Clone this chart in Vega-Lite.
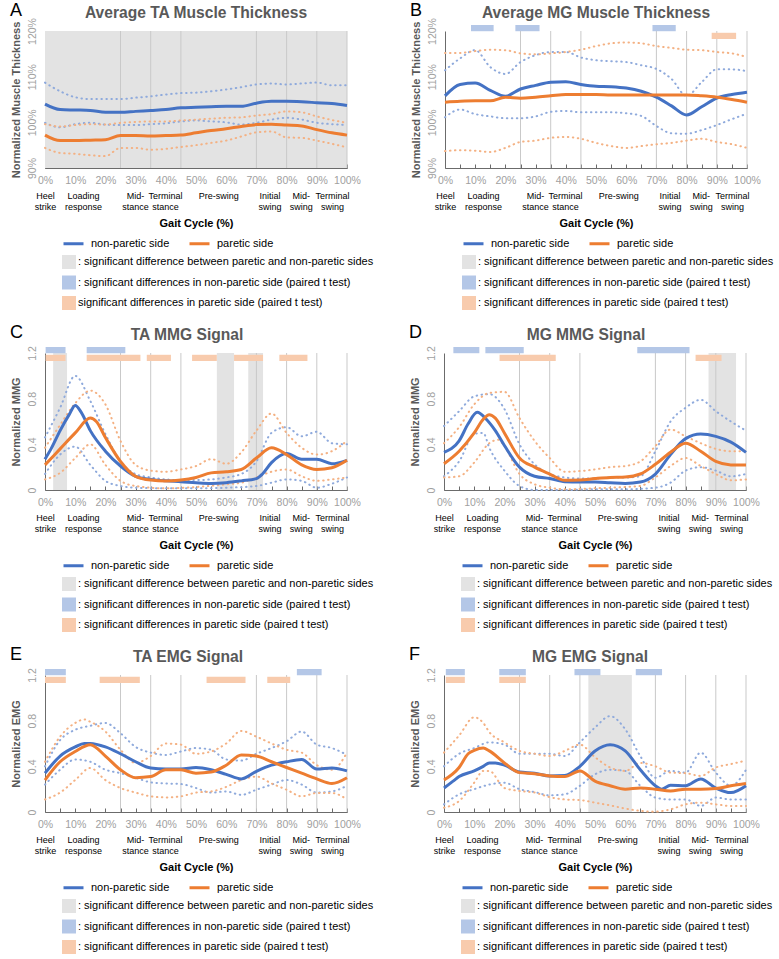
{
"$schema": "https://vega.github.io/schema/vega-lite/v6.json",
"background": "white",
"padding": {"left": 9, "top": 1, "right": 2, "bottom": 0},
"config": {"font": "Liberation Sans", "view": {"stroke": null}, "legend": {"padding": 0}},
"datasets": {
"A": [
{"x":0,"n":104.0,"p":97.2,"nu":108.7,"nl":99.9,"pu":99.6,"pl":94.4},
{"x":5,"n":102.8,"p":96.0,"nu":106.8,"nl":98.9,"pu":99.1,"pl":93.3},
{"x":10,"n":102.7,"p":96.0,"nu":105.5,"nl":99.6,"pu":99.4,"pl":93.1},
{"x":15,"n":102.6,"p":96.1,"nu":105.1,"nl":99.9,"pu":99.6,"pl":92.8},
{"x":20,"n":102.2,"p":96.2,"nu":105.1,"nl":99.5,"pu":99.5,"pl":92.6},
{"x":25,"n":102.2,"p":97.1,"nu":105.1,"nl":99.4,"pu":99.9,"pl":94.4},
{"x":30,"n":102.4,"p":97.1,"nu":105.4,"nl":99.4,"pu":100.1,"pl":94.4},
{"x":35,"n":102.6,"p":97.0,"nu":105.7,"nl":99.6,"pu":100.2,"pl":94.0},
{"x":40,"n":102.8,"p":97.1,"nu":106.1,"nl":99.8,"pu":100.2,"pl":94.2},
{"x":45,"n":103.2,"p":97.2,"nu":106.4,"nl":100.2,"pu":100.4,"pl":94.6},
{"x":50,"n":103.3,"p":97.7,"nu":106.5,"nl":100.4,"pu":100.6,"pl":95.0},
{"x":55,"n":103.4,"p":98.2,"nu":106.8,"nl":100.2,"pu":100.8,"pl":95.5},
{"x":60,"n":103.5,"p":98.6,"nu":107.2,"nl":100.0,"pu":101.0,"pl":96.0},
{"x":65,"n":103.5,"p":99.1,"nu":107.7,"nl":99.5,"pu":101.1,"pl":96.9},
{"x":70,"n":104.2,"p":99.5,"nu":108.3,"nl":99.9,"pu":101.5,"pl":97.8},
{"x":75,"n":104.6,"p":99.6,"nu":108.5,"nl":100.6,"pu":101.8,"pl":98.0},
{"x":80,"n":104.6,"p":99.4,"nu":108.3,"nl":101.0,"pu":102.4,"pl":96.7},
{"x":85,"n":104.5,"p":99.2,"nu":108.5,"nl":100.6,"pu":102.2,"pl":96.6},
{"x":90,"n":104.3,"p":98.4,"nu":108.7,"nl":99.9,"pu":101.3,"pl":96.0},
{"x":95,"n":104.1,"p":97.7,"nu":108.1,"nl":99.6,"pu":100.5,"pl":95.3},
{"x":100,"n":103.7,"p":97.2,"nu":108.1,"nl":99.4,"pu":99.9,"pl":94.5}
],
"B": [
{"x":0,"n":105.8,"p":104.4,"nu":111.4,"nl":101.1,"pu":115.2,"pl":93.7},
{"x":5,"n":108.3,"p":104.6,"nu":114.0,"nl":102.8,"pu":115.2,"pl":93.9},
{"x":10,"n":108.6,"p":104.7,"nu":115.8,"nl":101.8,"pu":115.6,"pl":93.8},
{"x":15,"n":107.0,"p":104.7,"nu":112.1,"nl":101.3,"pu":115.9,"pl":93.5},
{"x":20,"n":105.7,"p":105.5,"nu":110.6,"nl":100.9,"pu":115.8,"pl":94.4},
{"x":25,"n":107.3,"p":105.3,"nu":113.2,"nl":100.9,"pu":115.1,"pl":95.7},
{"x":30,"n":108.1,"p":105.5,"nu":114.7,"nl":101.3,"pu":114.9,"pl":96.0},
{"x":35,"n":108.8,"p":105.8,"nu":115.4,"nl":102.3,"pu":115.1,"pl":96.6},
{"x":40,"n":108.9,"p":106.1,"nu":115.4,"nl":102.5,"pu":115.4,"pl":96.8},
{"x":45,"n":108.3,"p":106.1,"nu":114.2,"nl":102.2,"pu":115.9,"pl":96.4},
{"x":50,"n":107.9,"p":106.1,"nu":113.6,"nl":102.2,"pu":116.7,"pl":95.5},
{"x":55,"n":107.8,"p":106.0,"nu":113.4,"nl":102.2,"pu":117.3,"pl":94.8},
{"x":60,"n":107.5,"p":106.0,"nu":113.2,"nl":102.0,"pu":117.5,"pl":94.4},
{"x":65,"n":106.8,"p":106.0,"nu":112.5,"nl":101.4,"pu":117.3,"pl":94.8},
{"x":70,"n":105.5,"p":106.0,"nu":111.7,"nl":99.2,"pu":116.7,"pl":95.2},
{"x":75,"n":103.6,"p":106.0,"nu":109.5,"nl":97.6,"pu":116.3,"pl":95.5},
{"x":80,"n":101.6,"p":106.0,"nu":105.8,"nl":97.5,"pu":115.9,"pl":96.0},
{"x":85,"n":103.4,"p":105.8,"nu":108.8,"nl":98.3,"pu":115.8,"pl":96.4},
{"x":90,"n":105.3,"p":105.5,"nu":111.6,"nl":99.4,"pu":115.4,"pl":95.7},
{"x":95,"n":106.1,"p":105.0,"nu":111.6,"nl":100.7,"pu":115.1,"pl":95.2},
{"x":100,"n":106.6,"p":104.4,"nu":111.2,"nl":101.9,"pu":114.3,"pl":94.4}
],
"C": [
{"x":0,"n":0.27,"p":0.22,"nu":0.46,"nl":0.14,"pu":0.37,"pl":0.093},
{"x":2,"n":0.36},
{"x":5,"n":0.52,"p":0.36,"nu":0.72,"nl":0.31,"pu":0.57,"pl":0.15},
{"x":8,"n":0.66},
{"x":10,"n":0.74,"p":0.50,"nu":1.0,"nl":0.38,"pu":0.76,"pl":0.28},
{"x":12,"n":0.68},
{"x":15,"n":0.52,"p":0.63,"nu":0.78,"nl":0.22,"pu":0.87,"pl":0.40},
{"x":17,"p":0.60},
{"x":20,"n":0.34,"p":0.46,"nu":0.49,"nl":0.08,"pu":0.75,"pl":0.22},
{"x":25,"n":0.21,"p":0.25,"nu":0.25,"nl":0.035,"pu":0.43,"pl":0.08},
{"x":30,"n":0.12,"p":0.12,"nu":0.14,"nl":0.02,"pu":0.22,"pl":0.035},
{"x":35,"n":0.093,"p":0.087,"nu":0.11,"pu":0.17},
{"x":40,"n":0.08,"p":0.079,"nu":0.093,"nl":0.015,"pu":0.16,"pl":0.015},
{"x":45,"n":0.073,"p":0.087,"nu":0.087,"pu":0.18},
{"x":50,"n":0.064,"p":0.11,"nu":0.087,"nl":0.015,"pu":0.21,"pl":0.026},
{"x":55,"n":0.058,"p":0.15,"nu":0.093,"pu":0.27},
{"x":60,"n":0.064,"p":0.16,"nu":0.11,"nl":0.02,"pu":0.23,"pl":0.05},
{"x":65,"n":0.08,"p":0.18,"nu":0.14,"pu":0.33,"pl":0.064},
{"x":70,"n":0.10,"p":0.28,"nu":0.25,"nl":0.035,"pu":0.52,"pl":0.11},
{"x":72,"n":0.14},
{"x":75,"n":0.24,"p":0.37,"nu":0.50,"nl":0.064,"pu":0.67,"pl":0.16},
{"x":80,"n":0.32,"p":0.31,"nu":0.55,"nl":0.093,"pu":0.50,"pl":0.18},
{"x":85,"n":0.27,"p":0.22,"nu":0.47,"nl":0.08,"pu":0.37,"pl":0.12},
{"x":90,"n":0.27,"p":0.18,"nu":0.51,"nl":0.02,"pu":0.31,"pl":0.08},
{"x":95,"n":0.23,"p":0.195,"nu":0.41,"nl":0.055,"pu":0.34,"pl":0.093},
{"x":100,"n":0.26,"p":0.26,"nu":0.40,"nl":0.11,"pu":0.43,"pl":0.11}
],
"D": [
{"x":0,"n":0.33,"p":0.23,"nu":0.56,"nl":0.12,"pu":0.41,"pl":0.11},
{"x":5,"n":0.43,"p":0.34,"nu":0.69,"nl":0.25,"pu":0.55,"pl":0.12},
{"x":8,"n":0.58},
{"x":10,"p":0.50,"nu":0.82,"nl":0.49,"pu":0.75,"pl":0.24},
{"x":11,"n":0.68},
{"x":13,"p":0.62,"nl":0.50},
{"x":14,"n":0.62},
{"x":15,"p":0.66,"nu":0.84,"nl":0.37,"pu":0.85,"pl":0.41},
{"x":17,"n":0.52,"p":0.63},
{"x":18,"pl":0.44},
{"x":20,"n":0.39,"p":0.50,"nu":0.71,"nl":0.17,"pu":0.86,"pl":0.385},
{"x":25,"n":0.20,"p":0.28,"nu":0.40,"nl":0.035,"pu":0.63,"pl":0.14},
{"x":30,"n":0.12,"p":0.20,"nu":0.225,"nl":0.0,"pu":0.43,"pl":0.05},
{"x":35,"n":0.10,"p":0.14,"nu":0.14,"pu":0.28,"pl":0.02},
{"x":40,"n":0.073,"p":0.085,"nu":0.11,"nl":0.0,"pu":0.16,"pl":0.006},
{"x":45,"n":0.07,"p":0.088,"nu":0.10,"pu":0.166},
{"x":50,"n":0.07,"p":0.10,"nu":0.10,"nl":0.006,"pu":0.18,"pl":0.015},
{"x":55,"n":0.064,"p":0.11,"nu":0.11,"pu":0.20},
{"x":60,"n":0.058,"p":0.114,"nu":0.11,"nl":0.006,"pu":0.21,"pl":0.026},
{"x":65,"n":0.07,"p":0.14,"nu":0.12,"pu":0.25,"pl":0.035},
{"x":70,"n":0.14,"p":0.225,"nu":0.34,"nl":0.02,"pu":0.385,"pl":0.11},
{"x":75,"n":0.31,"p":0.33,"nu":0.60,"nl":0.064,"pu":0.53,"pl":0.21},
{"x":80,"n":0.45,"p":0.41,"nu":0.72,"nl":0.17,"pu":0.47,"pl":0.28},
{"x":85,"n":0.49,"p":0.34,"nu":0.79,"nl":0.20,"pu":0.41,"pl":0.21},
{"x":90,"n":0.47,"p":0.25,"nu":0.69,"nl":0.17,"pu":0.36,"pl":0.14},
{"x":95,"n":0.42,"p":0.22,"nu":0.60,"nl":0.12,"pu":0.34,"pl":0.085},
{"x":100,"n":0.33,"p":0.22,"nu":0.52,"nl":0.14,"pu":0.34,"pl":0.093}
],
"E": [
{"x":0,"n":0.34,"p":0.28,"nu":0.40,"nl":0.24,"pu":0.44,"pl":0.11},
{"x":5,"n":0.49,"p":0.44,"nu":0.63,"nl":0.37,"pu":0.66,"pl":0.17},
{"x":10,"n":0.57,"p":0.53,"nu":0.72,"nl":0.46,"pu":0.78,"pl":0.28},
{"x":13,"n":0.60,"pu":0.81},
{"x":15,"n":0.60,"p":0.59,"nu":0.755,"nl":0.44,"pu":0.79,"pl":0.385},
{"x":20,"n":0.57,"p":0.49,"nu":0.78,"nl":0.37,"pu":0.705,"pl":0.28},
{"x":25,"n":0.51,"p":0.37,"nu":0.69,"nl":0.34,"pu":0.545,"pl":0.21},
{"x":30,"n":0.44,"p":0.30,"nu":0.57,"nl":0.30,"pu":0.43,"pl":0.17},
{"x":35,"n":0.385,"p":0.31,"nu":0.52,"nl":0.26,"pu":0.49,"pl":0.137},
{"x":40,"n":0.376,"p":0.37,"nu":0.50,"nl":0.25,"pu":0.60,"pl":0.128},
{"x":45,"n":0.376,"p":0.37,"nu":0.53,"nl":0.245,"pu":0.59,"pl":0.137},
{"x":50,"n":0.39,"p":0.34,"nu":0.56,"nl":0.21,"pu":0.51,"pl":0.17},
{"x":55,"n":0.37,"p":0.35,"nu":0.545,"nl":0.17,"pu":0.53,"pl":0.18},
{"x":60,"n":0.33,"p":0.41,"nu":0.46,"nl":0.18,"pu":0.60,"pl":0.22},
{"x":65,"n":0.29,"p":0.50,"nu":0.45,"nl":0.15,"pu":0.71,"pl":0.28},
{"x":70,"n":0.356,"p":0.49,"nu":0.51,"nl":0.195,"pu":0.66,"pl":0.31},
{"x":75,"n":0.41,"p":0.44,"nu":0.56,"nl":0.24,"pu":0.60,"pl":0.25},
{"x":80,"n":0.44,"p":0.39,"nu":0.62,"nl":0.28,"pu":0.545,"pl":0.195},
{"x":85,"n":0.46,"p":0.34,"nu":0.705,"nl":0.24,"pu":0.52,"pl":0.137},
{"x":90,"n":0.376,"p":0.29,"nu":0.59,"nl":0.17,"pu":0.41,"pl":0.166},
{"x":95,"n":0.385,"p":0.25,"nu":0.56,"nl":0.18,"pu":0.37,"pl":0.166},
{"x":100,"n":0.36,"p":0.30,"nu":0.50,"nl":0.23,"pu":0.52,"pl":0.11}
],
"F": [
{"x":0,"n":0.21,"p":0.28,"nu":0.40,"nl":0.067,"pu":0.52,"pl":0.038},
{"x":3,"n":0.27},
{"x":5,"n":0.31,"p":0.39,"nu":0.51,"nl":0.155,"pu":0.67,"pl":0.096},
{"x":8,"p":0.51},
{"x":10,"n":0.36,"p":0.54,"nu":0.56,"nl":0.20,"pu":0.83,"pl":0.257},
{"x":13,"n":0.40,"p":0.56,"pu":0.78,"pl":0.36},
{"x":15,"n":0.43,"p":0.535,"nu":0.61,"nl":0.24,"pu":0.70,"pl":0.36},
{"x":17,"n":0.43},
{"x":20,"n":0.41,"p":0.43,"nu":0.59,"nl":0.257,"pu":0.61,"pl":0.21},
{"x":25,"n":0.35,"p":0.345,"nu":0.51,"nl":0.20,"pu":0.535,"pl":0.184},
{"x":30,"n":0.34,"p":0.336,"nu":0.51,"nl":0.175,"pu":0.51,"pl":0.17},
{"x":35,"n":0.316,"p":0.316,"nu":0.51,"nl":0.146,"pu":0.49,"pl":0.13},
{"x":40,"n":0.32,"p":0.31,"nu":0.49,"nl":0.155,"pu":0.535,"pl":0.11},
{"x":45,"n":0.40,"p":0.36,"nu":0.61,"nl":0.23,"pu":0.59,"pl":0.105},
{"x":50,"n":0.535,"p":0.27,"nu":0.74,"nl":0.33,"pu":0.48,"pl":0.082},
{"x":55,"n":0.59,"p":0.23,"nu":0.84,"nl":0.37,"pu":0.39,"pl":0.058},
{"x":60,"n":0.535,"p":0.20,"nu":0.725,"nl":0.36,"pu":0.36,"pl":0.03},
{"x":65,"n":0.37,"p":0.21,"nu":0.49,"nl":0.23,"pu":0.43,"pl":0.01},
{"x":70,"n":0.23,"p":0.20,"nu":0.30,"nl":0.126,"pu":0.40,"pl":0.003},
{"x":72,"n":0.20},
{"x":75,"n":0.234,"p":0.184,"nu":0.36,"nl":0.11,"pu":0.345,"pl":0.023},
{"x":80,"n":0.23,"p":0.20,"nu":0.345,"nl":0.11,"pu":0.34,"pl":0.067},
{"x":85,"n":0.29,"p":0.20,"nu":0.52,"nl":0.053,"pu":0.316,"pl":0.082},
{"x":90,"n":0.21,"p":0.205,"nu":0.345,"nl":0.126,"pu":0.39,"pl":0.067},
{"x":95,"n":0.17,"p":0.23,"nu":0.23,"nl":0.11,"pu":0.42,"pl":0.053},
{"x":100,"n":0.23,"p":0.25,"nu":0.37,"nl":0.11,"pu":0.45,"pl":0.053}
],
"sA": [{"k":"b","a":0,"e":100}],
"sB": [{"k":"n","a":8.6,"e":16.1},{"k":"n","a":23.3,"e":31.3},{"k":"n","a":68.7,"e":76.4},{"k":"p","a":88.3,"e":96.4}],
"sC": [{"k":"b","a":2.7,"e":7.3},{"k":"b","a":56.9,"e":62.6},{"k":"b","a":67.3,"e":72.2},{"k":"n","a":0.2,"e":6.8},{"k":"n","a":13.8,"e":26.6},{"k":"p","a":0.2,"e":6.8},{"k":"p","a":13.8,"e":31.6},{"k":"p","a":33.7,"e":41.7},{"k":"p","a":48.7,"e":56.9},{"k":"p","a":62.6,"e":72.2},{"k":"p","a":77.6,"e":86.9}],
"sD": [{"k":"b","a":87.6,"e":96.7},{"k":"n","a":3.1,"e":11.7},{"k":"n","a":13.7,"e":26.4},{"k":"n","a":64.0,"e":81.3},{"k":"p","a":18.4,"e":37.0},{"k":"p","a":83.3,"e":91.9}],
"sE": [{"k":"n","a":0,"e":6.9},{"k":"n","a":83.4,"e":91.6},{"k":"p","a":0,"e":6.9},{"k":"p","a":18.1,"e":31.4},{"k":"p","a":53.5,"e":66.4},{"k":"p","a":73.6,"e":81.2}],
"sF": [{"k":"b","a":47.8,"e":62.2},{"k":"n","a":0.6,"e":6.9},{"k":"n","a":18.3,"e":27.1},{"k":"n","a":43.2,"e":51.8},{"k":"n","a":63.5,"e":72.2},{"k":"p","a":0.6,"e":6.9},{"k":"p","a":18.3,"e":27.1}]
},
"spacing": 14,
"resolve": {"scale": {"color": "independent", "fill": "independent"}, "legend": {"color": "independent", "fill": "independent"}},
"vconcat": [
{"spacing": 35, "resolve": {"scale": {"color": "independent", "fill": "independent"}, "legend": {"color": "independent", "fill": "independent"}},
 "hconcat": [
 {"title": {"text": "A", "anchor": "start", "fontSize": 18, "fontWeight": "normal", "color": "#000000", "offset": -14},
  "resolve": {"scale": {"color": "independent", "fill": "independent"}, "legend": {"color": "independent", "fill": "independent"}},
  "vconcat": [{
   "width": 302, "height": 137,
   "title": {"text": "Average TA Muscle Thickness", "fontSize": 15.6, "fontWeight": "bold", "color": "#595959", "frame": "group", "anchor": "middle", "offset": -4},
   "resolve": {"scale": {"y": "independent"}, "axis": {"x": "independent", "y": "independent"}},
   "layer": [
    {"data": {"name": "sA"}, "transform": [{"filter": "datum.k == 'b'"}], "mark": {"type": "rect"},
     "encoding": {"x": {"field": "a", "type": "quantitative", "scale": {"domain": [0,100], "nice": false, "zero": false}, "axis": null}, "x2": {"field": "e"},
      "fill": {"field": "k", "type": "nominal", "scale": {"domain": ["b","n","p"], "range": ["#E3E3E3","#B4C7E7","#F8CBAD"]},
       "legend": {"orient": "none", "legendX": 17, "legendY": 224, "title": null, "direction": "vertical", "symbolType": "square", "symbolSize": 196, "symbolStrokeWidth": 0, "symbolOpacity": 1, "labelFontSize": 11, "labelColor": "#000000", "labelOffset": 2, "rowPadding": 6.5, "labelLimit": 400,
        "labelExpr": "datum.label == 'b' ? ': significant difference between paretic and non-paretic sides' : datum.label == 'n' ? ': significant differences in non-paretic side (paired t test)' : '\u00a0\u00a0significant differences in paretic side (paired t test)'"}}}},
    {"data": {"values": [{"g":25},{"g":35},{"g":45},{"g":70},{"g":80},{"g":90},{"g":100}]},
     "mark": {"type": "rule", "color": "#C9C9C9", "strokeWidth": 1},
     "encoding": {"x": {"field": "g", "type": "quantitative", "scale": {"domain": [0,100], "nice": false, "zero": false},
      "axis": {"orient": "bottom", "offset": 27.5, "values": [0,12.6,29.8,39.7,57.4,74.3,84.7,95], "labelExpr": "datum.value < 5 ? ['Heel','strike'] : datum.value < 20 ? ['Loading','response'] : datum.value < 35 ? ['Mid-','stance'] : datum.value < 50 ? ['Terminal','stance'] : datum.value < 65 ? 'Pre-swing' : datum.value < 80 ? ['Initial','swing'] : datum.value < 90 ? ['Mid-','swing'] : ['Terminal','swing']", "domain": false, "ticks": false, "grid": false, "labelPadding": 0, "labelFontSize": 9, "labelColor": "#000000", "labelLineHeight": 11, "labelBaseline": "middle", "labelAlign": "center", "labelFlush": false, "labelOverlap": false, "labelBound": false, "title": "Gait Cycle (%)", "titleFontSize": 11, "titleFontWeight": "bold", "titleColor": "#000000", "titlePadding": 5.5}}}},
    {"data": {"name": "A"},
     "transform": [{"fold": ["n","p","nu","nl","pu","pl"], "as": ["s","y"]}, {"filter": "isValid(datum.y)"}],
     "encoding": {
      "x": {"field": "x", "type": "quantitative", "scale": {"domain": [0,100], "nice": false, "zero": false},
       "axis": {"orient": "bottom", "values": [0,5,10,15,20,25,30,35,40,45,50,55,60,65,70,75,80,85,90,95,100], "labelExpr": "datum.value % 10 == 0 ? datum.value + '%' : ''", "title": null, "grid": false, "domainColor": "#6B6B6B", "tickColor": "#6B6B6B", "tickSize": -4, "labelColor": "#A0A0A0", "labelFontSize": 10.5, "labelPadding": 11, "labelFlush": false, "labelOverlap": false}},
      "y": {"field": "y", "type": "quantitative", "scale": {"domain": [90,120], "nice": false, "zero": false},
       "axis": {"orient": "left", "values": [90,100,110,120], "labelExpr": "datum.value + '%'", "title": "Normalized Muscle Thickness", "grid": false, "ticks": false, "domainColor": "#6B6B6B", "labelAngle": -90, "labelAlign": "center", "labelBaseline": "bottom", "labelColor": "#A0A0A0", "labelFontSize": 10.5, "labelPadding": 8, "labelOverlap": false, "labelFlush": false, "titleFontSize": 11, "titleFontWeight": "bold", "titleColor": "#595959", "titlePadding": 6}}
     },
     "layer": [
      {"transform": [{"filter": "datum.s == 'nu' || datum.s == 'nl'"}], "mark": {"type": "line", "interpolate": "monotone", "color": "#8FAADC", "strokeWidth": 2, "strokeDash": [0.5,4.5], "strokeCap": "round"}, "encoding": {"detail": {"field": "s", "type": "nominal"}}},
      {"transform": [{"filter": "datum.s == 'pu' || datum.s == 'pl'"}], "mark": {"type": "line", "interpolate": "monotone", "color": "#F4B183", "strokeWidth": 2, "strokeDash": [0.5,4.5], "strokeCap": "round"}, "encoding": {"detail": {"field": "s", "type": "nominal"}}},
      {"transform": [{"filter": "datum.s == 'n' || datum.s == 'p'"}], "mark": {"type": "line", "interpolate": "monotone", "strokeWidth": 3},
       "encoding": {"color": {"field": "s", "type": "nominal", "scale": {"domain": ["n","p"], "range": ["#4472C4","#ED7D31"]},
        "legend": {"orient": "none", "legendX": 17, "legendY": 201, "title": null, "direction": "horizontal", "symbolType": "stroke", "symbolSize": 400, "symbolStrokeWidth": 3, "labelFontSize": 11, "labelColor": "#000000", "labelOffset": 6, "columnPadding": 13, "labelExpr": "datum.label == 'n' ? 'non-paretic side' : 'paretic side'"}}}}
     ]}
   ]
  }]
 },
 {"title": {"text": "B", "anchor": "start", "fontSize": 18, "fontWeight": "normal", "color": "#000000", "offset": -14},
  "resolve": {"scale": {"color": "independent", "fill": "independent"}, "legend": {"color": "independent", "fill": "independent"}},
  "vconcat": [{
   "width": 302, "height": 137,
   "title": {"text": "Average MG Muscle Thickness", "fontSize": 15.6, "fontWeight": "bold", "color": "#595959", "frame": "group", "anchor": "middle", "offset": -4},
   "resolve": {"scale": {"y": "independent"}, "axis": {"x": "independent", "y": "independent"}},
   "layer": [
    {"data": {"values": [{"g":25},{"g":35},{"g":45},{"g":70},{"g":80},{"g":90},{"g":100}]},
     "mark": {"type": "rule", "color": "#C9C9C9", "strokeWidth": 1},
     "encoding": {"x": {"field": "g", "type": "quantitative", "scale": {"domain": [0,100], "nice": false, "zero": false},
      "axis": {"orient": "bottom", "offset": 27.5, "values": [0,12.6,29.8,39.7,57.4,74.3,84.7,95], "labelExpr": "datum.value < 5 ? ['Heel','strike'] : datum.value < 20 ? ['Loading','response'] : datum.value < 35 ? ['Mid-','stance'] : datum.value < 50 ? ['Terminal','stance'] : datum.value < 65 ? 'Pre-swing' : datum.value < 80 ? ['Initial','swing'] : datum.value < 90 ? ['Mid-','swing'] : ['Terminal','swing']", "domain": false, "ticks": false, "grid": false, "labelPadding": 0, "labelFontSize": 9, "labelColor": "#000000", "labelLineHeight": 11, "labelBaseline": "middle", "labelAlign": "center", "labelFlush": false, "labelOverlap": false, "labelBound": false, "title": "Gait Cycle (%)", "titleFontSize": 11, "titleFontWeight": "bold", "titleColor": "#000000", "titlePadding": 5.5}}}},
    {"data": {"name": "B"},
     "transform": [{"fold": ["n","p","nu","nl","pu","pl"], "as": ["s","y"]}, {"filter": "isValid(datum.y)"}],
     "encoding": {
      "x": {"field": "x", "type": "quantitative", "scale": {"domain": [0,100], "nice": false, "zero": false},
       "axis": {"orient": "bottom", "values": [0,5,10,15,20,25,30,35,40,45,50,55,60,65,70,75,80,85,90,95,100], "labelExpr": "datum.value % 10 == 0 ? datum.value + '%' : ''", "title": null, "grid": false, "domainColor": "#6B6B6B", "tickColor": "#6B6B6B", "tickSize": -4, "labelColor": "#A0A0A0", "labelFontSize": 10.5, "labelPadding": 11, "labelFlush": false, "labelOverlap": false}},
      "y": {"field": "y", "type": "quantitative", "scale": {"domain": [90,120], "nice": false, "zero": false},
       "axis": {"orient": "left", "values": [90,100,110,120], "labelExpr": "datum.value + '%'", "title": "Normalized Muscle Thickness", "grid": false, "ticks": false, "domainColor": "#6B6B6B", "labelAngle": -90, "labelAlign": "center", "labelBaseline": "bottom", "labelColor": "#A0A0A0", "labelFontSize": 10.5, "labelPadding": 8, "labelOverlap": false, "labelFlush": false, "titleFontSize": 11, "titleFontWeight": "bold", "titleColor": "#595959", "titlePadding": 6}}
     },
     "layer": [
      {"transform": [{"filter": "datum.s == 'nu' || datum.s == 'nl'"}], "mark": {"type": "line", "interpolate": "monotone", "color": "#8FAADC", "strokeWidth": 2, "strokeDash": [0.5,4.5], "strokeCap": "round"}, "encoding": {"detail": {"field": "s", "type": "nominal"}}},
      {"transform": [{"filter": "datum.s == 'pu' || datum.s == 'pl'"}], "mark": {"type": "line", "interpolate": "monotone", "color": "#F4B183", "strokeWidth": 2, "strokeDash": [0.5,4.5], "strokeCap": "round"}, "encoding": {"detail": {"field": "s", "type": "nominal"}}},
      {"transform": [{"filter": "datum.s == 'n' || datum.s == 'p'"}], "mark": {"type": "line", "interpolate": "monotone", "strokeWidth": 3},
       "encoding": {"color": {"field": "s", "type": "nominal", "scale": {"domain": ["n","p"], "range": ["#4472C4","#ED7D31"]},
        "legend": {"orient": "none", "legendX": 17, "legendY": 201, "title": null, "direction": "horizontal", "symbolType": "stroke", "symbolSize": 400, "symbolStrokeWidth": 3, "labelFontSize": 11, "labelColor": "#000000", "labelOffset": 6, "columnPadding": 13, "labelExpr": "datum.label == 'n' ? 'non-paretic side' : 'paretic side'"}}}}
     ]},
    {"data": {"name": "sB"}, "transform": [{"filter": "datum.k != 'b'"}], "mark": {"type": "bar"},
     "encoding": {"x": {"field": "a", "type": "quantitative", "scale": {"domain": [0,100], "nice": false, "zero": false}, "axis": null}, "x2": {"field": "e"},
      "y": {"field": "k", "type": "nominal", "scale": {"domain": ["n","p"], "range": [-6,8], "paddingInner": 0.2, "paddingOuter": 0}, "axis": null},
      "fill": {"field": "k", "type": "nominal", "scale": {"domain": ["b","n","p"], "range": ["#E3E3E3","#B4C7E7","#F8CBAD"]},
       "legend": {"orient": "none", "legendX": 17, "legendY": 224, "title": null, "direction": "vertical", "symbolType": "square", "symbolSize": 196, "symbolStrokeWidth": 0, "symbolOpacity": 1, "labelFontSize": 11, "labelColor": "#000000", "labelOffset": 2, "rowPadding": 6.5, "labelLimit": 400,
        "labelExpr": "datum.label == 'b' ? ': significant difference between paretic and non-paretic sides' : datum.label == 'n' ? ': significant differences in non-paretic side (paired t test)' : ': significant differences in paretic side (paired t test)'"}}}}
   ]
  }]
 }
 ]},
{"spacing": 35, "resolve": {"scale": {"color": "independent", "fill": "independent"}, "legend": {"color": "independent", "fill": "independent"}},
 "hconcat": [
 {"title": {"text": "C", "anchor": "start", "fontSize": 18, "fontWeight": "normal", "color": "#000000", "offset": -14},
  "resolve": {"scale": {"color": "independent", "fill": "independent"}, "legend": {"color": "independent", "fill": "independent"}},
  "vconcat": [{
   "width": 302, "height": 137,
   "title": {"text": "TA MMG Signal", "fontSize": 15.6, "fontWeight": "bold", "color": "#595959", "frame": "group", "anchor": "middle", "offset": 2, "dx": -9},
   "resolve": {"scale": {"y": "independent"}, "axis": {"x": "independent", "y": "independent"}},
   "layer": [
    {"data": {"name": "sC"}, "transform": [{"filter": "datum.k == 'b'"}], "mark": {"type": "rect"},
     "encoding": {"x": {"field": "a", "type": "quantitative", "scale": {"domain": [0,100], "nice": false, "zero": false}, "axis": null}, "x2": {"field": "e"},
      "fill": {"field": "k", "type": "nominal", "scale": {"domain": ["b","n","p"], "range": ["#E3E3E3","#B4C7E7","#F8CBAD"]},
       "legend": {"orient": "none", "legendX": 17, "legendY": 224, "title": null, "direction": "vertical", "symbolType": "square", "symbolSize": 196, "symbolStrokeWidth": 0, "symbolOpacity": 1, "labelFontSize": 11, "labelColor": "#000000", "labelOffset": 2, "rowPadding": 6.5, "labelLimit": 400,
        "labelExpr": "datum.label == 'b' ? ': significant difference between paretic and non-paretic sides' : datum.label == 'n' ? ': significant differences in non-paretic side (paired t test)' : ': significant differences in paretic side (paired t test)'"}}}},
    {"data": {"values": [{"g":25},{"g":35},{"g":45},{"g":70},{"g":80},{"g":90},{"g":100}]},
     "mark": {"type": "rule", "color": "#C9C9C9", "strokeWidth": 1},
     "encoding": {"x": {"field": "g", "type": "quantitative", "scale": {"domain": [0,100], "nice": false, "zero": false},
      "axis": {"orient": "bottom", "offset": 27.5, "values": [0,12.6,29.8,39.7,57.4,74.3,84.7,95], "labelExpr": "datum.value < 5 ? ['Heel','strike'] : datum.value < 20 ? ['Loading','response'] : datum.value < 35 ? ['Mid-','stance'] : datum.value < 50 ? ['Terminal','stance'] : datum.value < 65 ? 'Pre-swing' : datum.value < 80 ? ['Initial','swing'] : datum.value < 90 ? ['Mid-','swing'] : ['Terminal','swing']", "domain": false, "ticks": false, "grid": false, "labelPadding": 0, "labelFontSize": 9, "labelColor": "#000000", "labelLineHeight": 11, "labelBaseline": "middle", "labelAlign": "center", "labelFlush": false, "labelOverlap": false, "labelBound": false, "title": "Gait Cycle (%)", "titleFontSize": 11, "titleFontWeight": "bold", "titleColor": "#000000", "titlePadding": 5.5}}}},
    {"data": {"name": "C"},
     "transform": [{"fold": ["n","p","nu","nl","pu","pl"], "as": ["s","y"]}, {"filter": "isValid(datum.y)"}],
     "encoding": {
      "x": {"field": "x", "type": "quantitative", "scale": {"domain": [0,100], "nice": false, "zero": false},
       "axis": {"orient": "bottom", "values": [0,5,10,15,20,25,30,35,40,45,50,55,60,65,70,75,80,85,90,95,100], "labelExpr": "datum.value % 10 == 0 ? datum.value + '%' : ''", "title": null, "grid": false, "domainColor": "#6B6B6B", "tickColor": "#6B6B6B", "tickSize": -4, "labelColor": "#A0A0A0", "labelFontSize": 10.5, "labelPadding": 11, "labelFlush": false, "labelOverlap": false}},
      "y": {"field": "y", "type": "quantitative", "scale": {"domain": [0,1.2], "nice": false, "zero": false},
       "axis": {"orient": "left", "values": [0,0.4,0.8,1.2], "labelExpr": "datum.value == 0 ? '0' : format(datum.value, '.1f')", "title": "Normalized MMG", "grid": false, "ticks": false, "domainColor": "#6B6B6B", "labelAngle": -90, "labelAlign": "center", "labelBaseline": "bottom", "labelColor": "#A0A0A0", "labelFontSize": 10.5, "labelPadding": 8, "labelOverlap": false, "labelFlush": false, "titleFontSize": 11, "titleFontWeight": "bold", "titleColor": "#595959", "titlePadding": 6}}
     },
     "layer": [
      {"transform": [{"filter": "datum.s == 'nu' || datum.s == 'nl'"}], "mark": {"type": "line", "interpolate": "monotone", "color": "#8FAADC", "strokeWidth": 2, "strokeDash": [0.5,4.5], "strokeCap": "round"}, "encoding": {"detail": {"field": "s", "type": "nominal"}}},
      {"transform": [{"filter": "datum.s == 'pu' || datum.s == 'pl'"}], "mark": {"type": "line", "interpolate": "monotone", "color": "#F4B183", "strokeWidth": 2, "strokeDash": [0.5,4.5], "strokeCap": "round"}, "encoding": {"detail": {"field": "s", "type": "nominal"}}},
      {"transform": [{"filter": "datum.s == 'n' || datum.s == 'p'"}], "mark": {"type": "line", "interpolate": "monotone", "strokeWidth": 3},
       "encoding": {"color": {"field": "s", "type": "nominal", "scale": {"domain": ["n","p"], "range": ["#4472C4","#ED7D31"]},
        "legend": {"orient": "none", "legendX": 17, "legendY": 201, "title": null, "direction": "horizontal", "symbolType": "stroke", "symbolSize": 400, "symbolStrokeWidth": 3, "labelFontSize": 11, "labelColor": "#000000", "labelOffset": 6, "columnPadding": 13, "labelExpr": "datum.label == 'n' ? 'non-paretic side' : 'paretic side'"}}}}
     ]},
    {"data": {"name": "sC"}, "transform": [{"filter": "datum.k != 'b'"}], "mark": {"type": "bar"},
     "encoding": {"x": {"field": "a", "type": "quantitative", "scale": {"domain": [0,100], "nice": false, "zero": false}, "axis": null}, "x2": {"field": "e"},
      "y": {"field": "k", "type": "nominal", "scale": {"domain": ["n","p"], "range": [-6,8], "paddingInner": 0.2, "paddingOuter": 0}, "axis": null},
      "fill": {"field": "k", "type": "nominal", "scale": {"domain": ["b","n","p"], "range": ["#E3E3E3","#B4C7E7","#F8CBAD"]},
       "legend": {"orient": "none", "legendX": 17, "legendY": 224, "title": null, "direction": "vertical", "symbolType": "square", "symbolSize": 196, "symbolStrokeWidth": 0, "symbolOpacity": 1, "labelFontSize": 11, "labelColor": "#000000", "labelOffset": 2, "rowPadding": 6.5, "labelLimit": 400,
        "labelExpr": "datum.label == 'b' ? ': significant difference between paretic and non-paretic sides' : datum.label == 'n' ? ': significant differences in non-paretic side (paired t test)' : ': significant differences in paretic side (paired t test)'"}}}}
   ]
  }]
 },
 {"title": {"text": "D", "anchor": "start", "fontSize": 18, "fontWeight": "normal", "color": "#000000", "offset": -14},
  "resolve": {"scale": {"color": "independent", "fill": "independent"}, "legend": {"color": "independent", "fill": "independent"}},
  "vconcat": [{
   "width": 302, "height": 137,
   "title": {"text": "MG MMG Signal", "fontSize": 15.6, "fontWeight": "bold", "color": "#595959", "frame": "group", "anchor": "middle", "offset": 2, "dx": -9},
   "resolve": {"scale": {"y": "independent"}, "axis": {"x": "independent", "y": "independent"}},
   "layer": [
    {"data": {"name": "sD"}, "transform": [{"filter": "datum.k == 'b'"}], "mark": {"type": "rect"},
     "encoding": {"x": {"field": "a", "type": "quantitative", "scale": {"domain": [0,100], "nice": false, "zero": false}, "axis": null}, "x2": {"field": "e"},
      "fill": {"field": "k", "type": "nominal", "scale": {"domain": ["b","n","p"], "range": ["#E3E3E3","#B4C7E7","#F8CBAD"]},
       "legend": {"orient": "none", "legendX": 17, "legendY": 224, "title": null, "direction": "vertical", "symbolType": "square", "symbolSize": 196, "symbolStrokeWidth": 0, "symbolOpacity": 1, "labelFontSize": 11, "labelColor": "#000000", "labelOffset": 2, "rowPadding": 6.5, "labelLimit": 400,
        "labelExpr": "datum.label == 'b' ? ': significant difference between paretic and non-paretic sides' : datum.label == 'n' ? ': significant differences in non-paretic side (paired t test)' : ': significant differences in paretic side (paired t test)'"}}}},
    {"data": {"values": [{"g":25},{"g":35},{"g":45},{"g":70},{"g":80},{"g":90},{"g":100}]},
     "mark": {"type": "rule", "color": "#C9C9C9", "strokeWidth": 1},
     "encoding": {"x": {"field": "g", "type": "quantitative", "scale": {"domain": [0,100], "nice": false, "zero": false},
      "axis": {"orient": "bottom", "offset": 27.5, "values": [0,12.6,29.8,39.7,57.4,74.3,84.7,95], "labelExpr": "datum.value < 5 ? ['Heel','strike'] : datum.value < 20 ? ['Loading','response'] : datum.value < 35 ? ['Mid-','stance'] : datum.value < 50 ? ['Terminal','stance'] : datum.value < 65 ? 'Pre-swing' : datum.value < 80 ? ['Initial','swing'] : datum.value < 90 ? ['Mid-','swing'] : ['Terminal','swing']", "domain": false, "ticks": false, "grid": false, "labelPadding": 0, "labelFontSize": 9, "labelColor": "#000000", "labelLineHeight": 11, "labelBaseline": "middle", "labelAlign": "center", "labelFlush": false, "labelOverlap": false, "labelBound": false, "title": "Gait Cycle (%)", "titleFontSize": 11, "titleFontWeight": "bold", "titleColor": "#000000", "titlePadding": 5.5}}}},
    {"data": {"name": "D"},
     "transform": [{"fold": ["n","p","nu","nl","pu","pl"], "as": ["s","y"]}, {"filter": "isValid(datum.y)"}],
     "encoding": {
      "x": {"field": "x", "type": "quantitative", "scale": {"domain": [0,100], "nice": false, "zero": false},
       "axis": {"orient": "bottom", "values": [0,5,10,15,20,25,30,35,40,45,50,55,60,65,70,75,80,85,90,95,100], "labelExpr": "datum.value % 10 == 0 ? datum.value + '%' : ''", "title": null, "grid": false, "domainColor": "#6B6B6B", "tickColor": "#6B6B6B", "tickSize": -4, "labelColor": "#A0A0A0", "labelFontSize": 10.5, "labelPadding": 11, "labelFlush": false, "labelOverlap": false}},
      "y": {"field": "y", "type": "quantitative", "scale": {"domain": [0,1.2], "nice": false, "zero": false},
       "axis": {"orient": "left", "values": [0,0.4,0.8,1.2], "labelExpr": "datum.value == 0 ? '0' : format(datum.value, '.1f')", "title": "Normalized MMG", "grid": false, "ticks": false, "domainColor": "#6B6B6B", "labelAngle": -90, "labelAlign": "center", "labelBaseline": "bottom", "labelColor": "#A0A0A0", "labelFontSize": 10.5, "labelPadding": 8, "labelOverlap": false, "labelFlush": false, "titleFontSize": 11, "titleFontWeight": "bold", "titleColor": "#595959", "titlePadding": 6}}
     },
     "layer": [
      {"transform": [{"filter": "datum.s == 'nu' || datum.s == 'nl'"}], "mark": {"type": "line", "interpolate": "monotone", "color": "#8FAADC", "strokeWidth": 2, "strokeDash": [0.5,4.5], "strokeCap": "round"}, "encoding": {"detail": {"field": "s", "type": "nominal"}}},
      {"transform": [{"filter": "datum.s == 'pu' || datum.s == 'pl'"}], "mark": {"type": "line", "interpolate": "monotone", "color": "#F4B183", "strokeWidth": 2, "strokeDash": [0.5,4.5], "strokeCap": "round"}, "encoding": {"detail": {"field": "s", "type": "nominal"}}},
      {"transform": [{"filter": "datum.s == 'n' || datum.s == 'p'"}], "mark": {"type": "line", "interpolate": "monotone", "strokeWidth": 3},
       "encoding": {"color": {"field": "s", "type": "nominal", "scale": {"domain": ["n","p"], "range": ["#4472C4","#ED7D31"]},
        "legend": {"orient": "none", "legendX": 17, "legendY": 201, "title": null, "direction": "horizontal", "symbolType": "stroke", "symbolSize": 400, "symbolStrokeWidth": 3, "labelFontSize": 11, "labelColor": "#000000", "labelOffset": 6, "columnPadding": 13, "labelExpr": "datum.label == 'n' ? 'non-paretic side' : 'paretic side'"}}}}
     ]},
    {"data": {"name": "sD"}, "transform": [{"filter": "datum.k != 'b'"}], "mark": {"type": "bar"},
     "encoding": {"x": {"field": "a", "type": "quantitative", "scale": {"domain": [0,100], "nice": false, "zero": false}, "axis": null}, "x2": {"field": "e"},
      "y": {"field": "k", "type": "nominal", "scale": {"domain": ["n","p"], "range": [-6,8], "paddingInner": 0.2, "paddingOuter": 0}, "axis": null},
      "fill": {"field": "k", "type": "nominal", "scale": {"domain": ["b","n","p"], "range": ["#E3E3E3","#B4C7E7","#F8CBAD"]},
       "legend": {"orient": "none", "legendX": 17, "legendY": 224, "title": null, "direction": "vertical", "symbolType": "square", "symbolSize": 196, "symbolStrokeWidth": 0, "symbolOpacity": 1, "labelFontSize": 11, "labelColor": "#000000", "labelOffset": 2, "rowPadding": 6.5, "labelLimit": 400,
        "labelExpr": "datum.label == 'b' ? ': significant difference between paretic and non-paretic sides' : datum.label == 'n' ? ': significant differences in non-paretic side (paired t test)' : ': significant differences in paretic side (paired t test)'"}}}}
   ]
  }]
 }
 ]},
{"spacing": 35, "resolve": {"scale": {"color": "independent", "fill": "independent"}, "legend": {"color": "independent", "fill": "independent"}},
 "hconcat": [
 {"title": {"text": "E", "anchor": "start", "fontSize": 18, "fontWeight": "normal", "color": "#000000", "offset": -14},
  "resolve": {"scale": {"color": "independent", "fill": "independent"}, "legend": {"color": "independent", "fill": "independent"}},
  "vconcat": [{
   "width": 302, "height": 137,
   "title": {"text": "TA EMG Signal", "fontSize": 15.6, "fontWeight": "bold", "color": "#595959", "frame": "group", "anchor": "middle", "offset": 2, "dx": -8},
   "resolve": {"scale": {"y": "independent"}, "axis": {"x": "independent", "y": "independent"}},
   "layer": [
    {"data": {"values": [{"g":25},{"g":35},{"g":45},{"g":70},{"g":80},{"g":90},{"g":100}]},
     "mark": {"type": "rule", "color": "#C9C9C9", "strokeWidth": 1},
     "encoding": {"x": {"field": "g", "type": "quantitative", "scale": {"domain": [0,100], "nice": false, "zero": false},
      "axis": {"orient": "bottom", "offset": 27.5, "values": [0,12.6,29.8,39.7,57.4,74.3,84.7,95], "labelExpr": "datum.value < 5 ? ['Heel','strike'] : datum.value < 20 ? ['Loading','response'] : datum.value < 35 ? ['Mid-','stance'] : datum.value < 50 ? ['Terminal','stance'] : datum.value < 65 ? 'Pre-swing' : datum.value < 80 ? ['Initial','swing'] : datum.value < 90 ? ['Mid-','swing'] : ['Terminal','swing']", "domain": false, "ticks": false, "grid": false, "labelPadding": 0, "labelFontSize": 9, "labelColor": "#000000", "labelLineHeight": 11, "labelBaseline": "middle", "labelAlign": "center", "labelFlush": false, "labelOverlap": false, "labelBound": false, "title": "Gait Cycle (%)", "titleFontSize": 11, "titleFontWeight": "bold", "titleColor": "#000000", "titlePadding": 5.5}}}},
    {"data": {"name": "E"},
     "transform": [{"fold": ["n","p","nu","nl","pu","pl"], "as": ["s","y"]}, {"filter": "isValid(datum.y)"}],
     "encoding": {
      "x": {"field": "x", "type": "quantitative", "scale": {"domain": [0,100], "nice": false, "zero": false},
       "axis": {"orient": "bottom", "values": [0,5,10,15,20,25,30,35,40,45,50,55,60,65,70,75,80,85,90,95,100], "labelExpr": "datum.value % 10 == 0 ? datum.value + '%' : ''", "title": null, "grid": false, "domainColor": "#6B6B6B", "tickColor": "#6B6B6B", "tickSize": -4, "labelColor": "#A0A0A0", "labelFontSize": 10.5, "labelPadding": 11, "labelFlush": false, "labelOverlap": false}},
      "y": {"field": "y", "type": "quantitative", "scale": {"domain": [0,1.2], "nice": false, "zero": false},
       "axis": {"orient": "left", "values": [0,0.4,0.8,1.2], "labelExpr": "datum.value == 0 ? '0' : format(datum.value, '.1f')", "title": "Normalized EMG", "grid": false, "ticks": false, "domainColor": "#6B6B6B", "labelAngle": -90, "labelAlign": "center", "labelBaseline": "bottom", "labelColor": "#A0A0A0", "labelFontSize": 10.5, "labelPadding": 8, "labelOverlap": false, "labelFlush": false, "titleFontSize": 11, "titleFontWeight": "bold", "titleColor": "#595959", "titlePadding": 6}}
     },
     "layer": [
      {"transform": [{"filter": "datum.s == 'nu' || datum.s == 'nl'"}], "mark": {"type": "line", "interpolate": "monotone", "color": "#8FAADC", "strokeWidth": 2, "strokeDash": [0.5,4.5], "strokeCap": "round"}, "encoding": {"detail": {"field": "s", "type": "nominal"}}},
      {"transform": [{"filter": "datum.s == 'pu' || datum.s == 'pl'"}], "mark": {"type": "line", "interpolate": "monotone", "color": "#F4B183", "strokeWidth": 2, "strokeDash": [0.5,4.5], "strokeCap": "round"}, "encoding": {"detail": {"field": "s", "type": "nominal"}}},
      {"transform": [{"filter": "datum.s == 'n' || datum.s == 'p'"}], "mark": {"type": "line", "interpolate": "monotone", "strokeWidth": 3},
       "encoding": {"color": {"field": "s", "type": "nominal", "scale": {"domain": ["n","p"], "range": ["#4472C4","#ED7D31"]},
        "legend": {"orient": "none", "legendX": 17, "legendY": 201, "title": null, "direction": "horizontal", "symbolType": "stroke", "symbolSize": 400, "symbolStrokeWidth": 3, "labelFontSize": 11, "labelColor": "#000000", "labelOffset": 6, "columnPadding": 13, "labelExpr": "datum.label == 'n' ? 'non-paretic side' : 'paretic side'"}}}}
     ]},
    {"data": {"name": "sE"}, "transform": [{"filter": "datum.k != 'b'"}], "mark": {"type": "bar"},
     "encoding": {"x": {"field": "a", "type": "quantitative", "scale": {"domain": [0,100], "nice": false, "zero": false}, "axis": null}, "x2": {"field": "e"},
      "y": {"field": "k", "type": "nominal", "scale": {"domain": ["n","p"], "range": [-6,8], "paddingInner": 0.2, "paddingOuter": 0}, "axis": null},
      "fill": {"field": "k", "type": "nominal", "scale": {"domain": ["b","n","p"], "range": ["#E3E3E3","#B4C7E7","#F8CBAD"]},
       "legend": {"orient": "none", "legendX": 17, "legendY": 224, "title": null, "direction": "vertical", "symbolType": "square", "symbolSize": 196, "symbolStrokeWidth": 0, "symbolOpacity": 1, "labelFontSize": 11, "labelColor": "#000000", "labelOffset": 2, "rowPadding": 6.5, "labelLimit": 400,
        "labelExpr": "datum.label == 'b' ? ': significant difference between paretic and non-paretic sides' : datum.label == 'n' ? ': significant differences in non-paretic side (paired t test)' : ': significant differences in paretic side (paired t test)'"}}}}
   ]
  }]
 },
 {"title": {"text": "F", "anchor": "start", "fontSize": 18, "fontWeight": "normal", "color": "#000000", "offset": -14},
  "resolve": {"scale": {"color": "independent", "fill": "independent"}, "legend": {"color": "independent", "fill": "independent"}},
  "vconcat": [{
   "width": 302, "height": 137,
   "title": {"text": "MG EMG Signal", "fontSize": 15.6, "fontWeight": "bold", "color": "#595959", "frame": "group", "anchor": "middle", "offset": 2, "dx": -5},
   "resolve": {"scale": {"y": "independent"}, "axis": {"x": "independent", "y": "independent"}},
   "layer": [
    {"data": {"name": "sF"}, "transform": [{"filter": "datum.k == 'b'"}], "mark": {"type": "rect"},
     "encoding": {"x": {"field": "a", "type": "quantitative", "scale": {"domain": [0,100], "nice": false, "zero": false}, "axis": null}, "x2": {"field": "e"},
      "fill": {"field": "k", "type": "nominal", "scale": {"domain": ["b","n","p"], "range": ["#E3E3E3","#B4C7E7","#F8CBAD"]},
       "legend": {"orient": "none", "legendX": 17, "legendY": 224, "title": null, "direction": "vertical", "symbolType": "square", "symbolSize": 196, "symbolStrokeWidth": 0, "symbolOpacity": 1, "labelFontSize": 11, "labelColor": "#000000", "labelOffset": 2, "rowPadding": 6.5, "labelLimit": 400,
        "labelExpr": "datum.label == 'b' ? ': significant difference between paretic and non-paretic sides' : datum.label == 'n' ? ': significant differences in non-paretic side (paired t test)' : ': significant differences in paretic side (paired t test)'"}}}},
    {"data": {"values": [{"g":25},{"g":35},{"g":45},{"g":70},{"g":80},{"g":90},{"g":100}]},
     "mark": {"type": "rule", "color": "#C9C9C9", "strokeWidth": 1},
     "encoding": {"x": {"field": "g", "type": "quantitative", "scale": {"domain": [0,100], "nice": false, "zero": false},
      "axis": {"orient": "bottom", "offset": 27.5, "values": [0,12.6,29.8,39.7,57.4,74.3,84.7,95], "labelExpr": "datum.value < 5 ? ['Heel','strike'] : datum.value < 20 ? ['Loading','response'] : datum.value < 35 ? ['Mid-','stance'] : datum.value < 50 ? ['Terminal','stance'] : datum.value < 65 ? 'Pre-swing' : datum.value < 80 ? ['Initial','swing'] : datum.value < 90 ? ['Mid-','swing'] : ['Terminal','swing']", "domain": false, "ticks": false, "grid": false, "labelPadding": 0, "labelFontSize": 9, "labelColor": "#000000", "labelLineHeight": 11, "labelBaseline": "middle", "labelAlign": "center", "labelFlush": false, "labelOverlap": false, "labelBound": false, "title": "Gait Cycle (%)", "titleFontSize": 11, "titleFontWeight": "bold", "titleColor": "#000000", "titlePadding": 5.5}}}},
    {"data": {"name": "F"},
     "transform": [{"fold": ["n","p","nu","nl","pu","pl"], "as": ["s","y"]}, {"filter": "isValid(datum.y)"}],
     "encoding": {
      "x": {"field": "x", "type": "quantitative", "scale": {"domain": [0,100], "nice": false, "zero": false},
       "axis": {"orient": "bottom", "values": [0,5,10,15,20,25,30,35,40,45,50,55,60,65,70,75,80,85,90,95,100], "labelExpr": "datum.value % 10 == 0 ? datum.value + '%' : ''", "title": null, "grid": false, "domainColor": "#6B6B6B", "tickColor": "#6B6B6B", "tickSize": -4, "labelColor": "#A0A0A0", "labelFontSize": 10.5, "labelPadding": 11, "labelFlush": false, "labelOverlap": false}},
      "y": {"field": "y", "type": "quantitative", "scale": {"domain": [0,1.2], "nice": false, "zero": false},
       "axis": {"orient": "left", "values": [0,0.4,0.8,1.2], "labelExpr": "datum.value == 0 ? '0' : format(datum.value, '.1f')", "title": "Normalized EMG", "grid": false, "ticks": false, "domainColor": "#6B6B6B", "labelAngle": -90, "labelAlign": "center", "labelBaseline": "bottom", "labelColor": "#A0A0A0", "labelFontSize": 10.5, "labelPadding": 8, "labelOverlap": false, "labelFlush": false, "titleFontSize": 11, "titleFontWeight": "bold", "titleColor": "#595959", "titlePadding": 6}}
     },
     "layer": [
      {"transform": [{"filter": "datum.s == 'nu' || datum.s == 'nl'"}], "mark": {"type": "line", "interpolate": "monotone", "color": "#8FAADC", "strokeWidth": 2, "strokeDash": [0.5,4.5], "strokeCap": "round"}, "encoding": {"detail": {"field": "s", "type": "nominal"}}},
      {"transform": [{"filter": "datum.s == 'pu' || datum.s == 'pl'"}], "mark": {"type": "line", "interpolate": "monotone", "color": "#F4B183", "strokeWidth": 2, "strokeDash": [0.5,4.5], "strokeCap": "round"}, "encoding": {"detail": {"field": "s", "type": "nominal"}}},
      {"transform": [{"filter": "datum.s == 'n' || datum.s == 'p'"}], "mark": {"type": "line", "interpolate": "monotone", "strokeWidth": 3},
       "encoding": {"color": {"field": "s", "type": "nominal", "scale": {"domain": ["n","p"], "range": ["#4472C4","#ED7D31"]},
        "legend": {"orient": "none", "legendX": 17, "legendY": 201, "title": null, "direction": "horizontal", "symbolType": "stroke", "symbolSize": 400, "symbolStrokeWidth": 3, "labelFontSize": 11, "labelColor": "#000000", "labelOffset": 6, "columnPadding": 13, "labelExpr": "datum.label == 'n' ? 'non-paretic side' : 'paretic side'"}}}}
     ]},
    {"data": {"name": "sF"}, "transform": [{"filter": "datum.k != 'b'"}], "mark": {"type": "bar"},
     "encoding": {"x": {"field": "a", "type": "quantitative", "scale": {"domain": [0,100], "nice": false, "zero": false}, "axis": null}, "x2": {"field": "e"},
      "y": {"field": "k", "type": "nominal", "scale": {"domain": ["n","p"], "range": [-6,8], "paddingInner": 0.2, "paddingOuter": 0}, "axis": null},
      "fill": {"field": "k", "type": "nominal", "scale": {"domain": ["b","n","p"], "range": ["#E3E3E3","#B4C7E7","#F8CBAD"]},
       "legend": {"orient": "none", "legendX": 17, "legendY": 224, "title": null, "direction": "vertical", "symbolType": "square", "symbolSize": 196, "symbolStrokeWidth": 0, "symbolOpacity": 1, "labelFontSize": 11, "labelColor": "#000000", "labelOffset": 2, "rowPadding": 6.5, "labelLimit": 400,
        "labelExpr": "datum.label == 'b' ? ': significant difference between paretic and non-paretic sides' : datum.label == 'n' ? ': significant differences in non-paretic side (paired t test)' : ': significant differences in paretic side (paired t test)'"}}}}
   ]
  }]
 }
 ]}
]
}
